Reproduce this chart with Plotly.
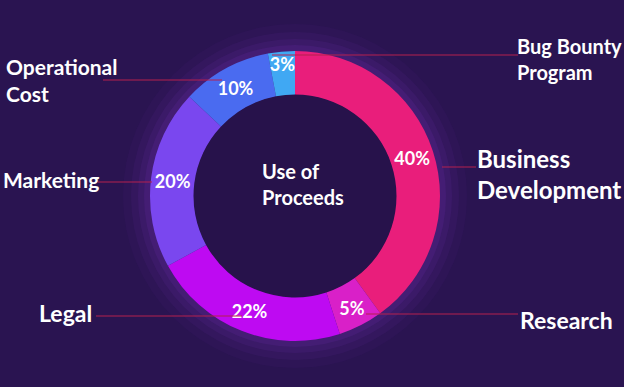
import plotly.graph_objects as go

categories = ["Business Development", "Research", "Legal", "Marketing", "Operational Cost", "Bug Bounty Program"]
values = [40, 5, 22, 20, 10, 3]
colors = ["#E91E7B", "#D920C8", "#BE0AF2", "#7A47EF", "#4A6BF0", "#40A8F3"]

BG = "#2A1451"
LINE = "#B3204E"
FONT = "Lato"

W, H = 624, 387

def px(x):
    return x / W

def py(y):
    return 1 - y / H

fig = go.Figure()

fig.add_trace(go.Pie(
    labels=categories,
    values=values,
    sort=False,
    direction="clockwise",
    rotation=0,
    hole=0.70,
    marker=dict(colors=colors, line=dict(width=0)),
    texttemplate="%{value}%",
    textposition="inside",
    insidetextorientation="horizontal",
    textfont=dict(family=FONT, size=18, color="white", weight="bold"),
    domain=dict(x=[px(150), px(440)], y=[py(341), py(51)]),
    showlegend=False,
    hoverinfo="label+percent",
))

ann = []
def label(text, x, y, size, anchor="left"):
    ann.append(dict(text=text, x=px(x), y=py(y), xref="paper", yref="paper",
                    xanchor=anchor, yanchor="middle", showarrow=False, align="left",
                    font=dict(family=FONT, size=size, color="white", weight="bold")))

label("Operational<br>Cost", 4, 80, 21)
label("Bug Bounty<br>Program", 515, 59, 20)
label("Business<br>Development", 475, 174, 24)
label("Marketing", 1, 179, 21)
label("Legal", 37, 313, 23)
label("Research", 518, 320, 23)

ann.append(dict(text="Use of<br>Proceeds", x=px(260), y=py(184), xref="paper", yref="paper",
                xanchor="left", yanchor="middle", showarrow=False, align="left",
                font=dict(family=FONT, size=20, color="white", weight="bold")))

shapes = []
# soft glow rings behind the donut
cx, cy = 295, 196
for r, a in [(172, 0.04), (164, 0.06), (157, 0.08), (151, 0.10)]:
    shapes.append(dict(type="circle", xref="paper", yref="paper",
                       x0=px(cx - r), x1=px(cx + r), y0=py(cy + r), y1=py(cy - r),
                       fillcolor=f"rgba(150,60,230,{a})", line=dict(width=0), layer="below"))
# dark centre of the donut
ri = 102
shapes.append(dict(type="circle", xref="paper", yref="paper",
                   x0=px(cx - ri), x1=px(cx + ri), y0=py(cy + ri), y1=py(cy - ri),
                   fillcolor="#27124B", line=dict(width=0), layer="below"))

def hline(x0, x1, y):
    shapes.append(dict(type="line", xref="paper", yref="paper", x0=px(x0), x1=px(x1),
                       y0=py(y), y1=py(y), line=dict(color=LINE, width=1.2), layer="above"))

hline(103, 222, 80)
hline(272, 518, 55)
hline(442, 476, 167)
hline(98, 152, 182)
hline(96, 242, 316)
hline(366, 518, 314)

fig.update_layout(
    width=W, height=H,
    margin=dict(l=0, r=0, t=0, b=0),
    paper_bgcolor=BG, plot_bgcolor=BG,
    annotations=ann, shapes=shapes,
    uniformtext=dict(minsize=18, mode="show"),
)

fig.write_html(
    "out.html",
    config={"displayModeBar": False},
    post_script="document.body.style.margin='0';document.body.style.background='%s';"
                "document.documentElement.style.background='%s';" % (BG, BG),
)
